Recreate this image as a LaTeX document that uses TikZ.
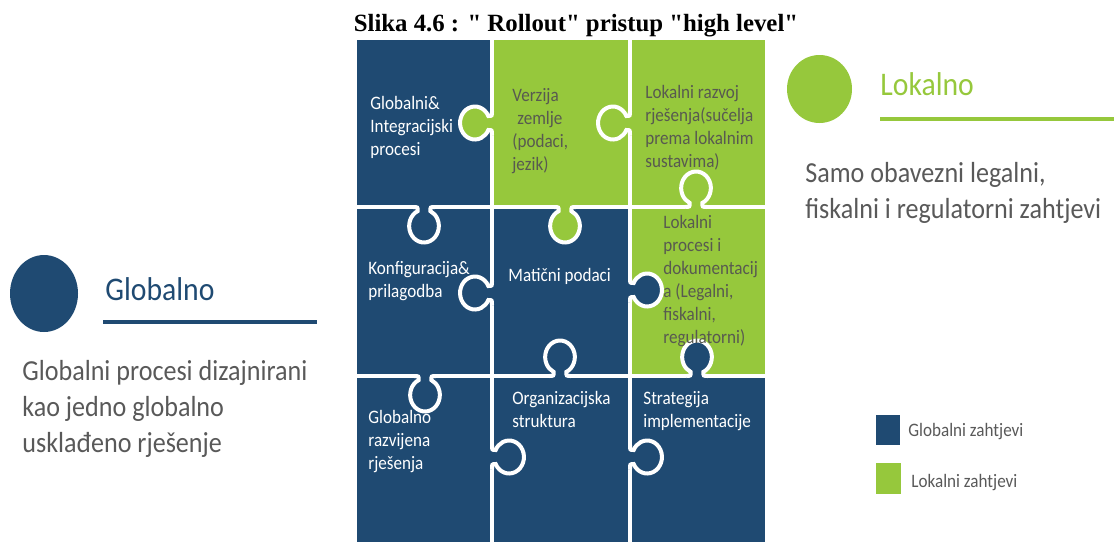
\documentclass[tikz,border=0pt]{standalone}
\usepackage{fontspec}
\setmainfont{Carlito}[FakeStretch=0.9]
\newfontfamily\titlefont{Liberation Serif}
\definecolor{globalblue}{RGB}{31,74,114}
\definecolor{localgreen}{RGB}{150,200,60}
\definecolor{bodygray}{RGB}{89,89,89}
\definecolor{tilegray}{RGB}{88,90,80}

% puzzle tab: edge point x, y, direction, colour of the owning piece
\newcommand{\puzzletab}[4]{%
  \begin{scope}[shift={(#1,#2)}, xscale=0.9, rotate=#3]
    \fill[#4] (-12,-3) -- (-12,0) .. controls (-7,0) .. (-7,4.06)
      arc[start angle=244.9, end angle=-64.9, radius=16.5]
      .. controls (7,0) .. (12,0) -- (12,-3) -- cycle;
    \draw[white, line width=2pt] (-12,0) .. controls (-7,0) .. (-7,4.06)
      arc[start angle=244.9, end angle=-64.9, radius=16.5]
      .. controls (7,0) .. (12,0);
  \end{scope}}

\begin{document}
\begin{tikzpicture}[x=0.5pt, y=-0.5pt,
    tile/.style={anchor=north west, inner sep=0pt, align=left,
      font=\fontsize{9.5}{11.5}\selectfont, execute at begin node=\strut},
    ontblue/.style={tile, text=white},
    ontgreen/.style={tile, text=tilegray},
    body/.style={anchor=north west, inner sep=0pt, align=left, text=bodygray,
      font=\fontsize{14.5}{18}\selectfont, execute at begin node=\strut},
    heading/.style={anchor=base west, inner sep=0pt, font=\fontsize{16.5}{20}\selectfont},
    legend/.style={anchor=base west, inner sep=0pt, text=bodygray, font=\fontsize{9.5}{11.5}\selectfont}]
  \useasboundingbox (0,0) rectangle (1114,542);

  % title
  \node[anchor=base, inner sep=0pt, font=\titlefont\bfseries\fontsize{12.4}{14}\selectfont] (title) at (576,31.5) {Slika 4.6 : " Rollout" pristup "high level"};

  % pieces
  \fill[globalblue] (357,40) rectangle (492,207);
  \fill[localgreen] (492,40) rectangle (630,207);
  \fill[localgreen] (630,40) rectangle (765,207);
  \fill[globalblue] (357,207) rectangle (492,376);
  \fill[globalblue] (492,207) rectangle (630,376);
  \fill[localgreen] (630,207) rectangle (765,376);
  \fill[globalblue] (357,376) rectangle (765,542);
  \draw[white, line width=2pt] (492,40) -- (492,542);
  \draw[white, line width=2pt] (630,40) -- (630,542);
  \draw[white, line width=2pt] (357,207) -- (765,207);
  \draw[white, line width=2pt] (357,376) -- (765,376);

  % tabs
  \puzzletab{492}{123}{-90}{localgreen}
  \puzzletab{630}{123}{-90}{localgreen}
  \puzzletab{696}{207}{180}{localgreen}
  \puzzletab{424}{207}{0}{globalblue}
  \puzzletab{565}{207}{0}{localgreen}
  \puzzletab{492}{293}{-90}{globalblue}
  \puzzletab{630}{290}{90}{globalblue}
  \puzzletab{560}{376}{180}{globalblue}
  \puzzletab{697}{376}{180}{globalblue}
  \puzzletab{425}{376}{0}{globalblue}
  \puzzletab{492}{457}{90}{globalblue}
  \puzzletab{630}{457}{90}{globalblue}

  % piece texts
  \node[ontblue] (gip) at (370,96) {Globalni\&\\Integracijski\\procesi};
  \node[ontgreen] (vz) at (512,88) {Verzija\\\hspace*{2.5pt}zemlje\\(podaci,\\jezik)};
  \node[ontgreen] (lrr) at (645,85) {Lokalni razvoj\\rješenja(sučelja\\prema lokalnim\\sustavima)};
  \node[ontblue] (kp) at (368,261) {Konfiguracija\&\\prilagodba};
  \node[ontblue] (mp) at (508,265) {Matični podaci};
  \node[ontgreen] (lpd) at (663,215) {Lokalni\\procesi i\\dokumentacij\\a (Legalni,\\fiskalni,\\regulatorni)};
  \node[ontblue] (grr) at (368,410) {Globalno\\razvijena\\rješenja};
  \node[ontblue] (os) at (512,391) {Organizacijska\\struktura};
  \node[ontblue] (si) at (643,391) {Strategija\\implementacije};

  % global side
  \fill[globalblue] (44,293.5) ellipse [x radius=34, y radius=38.5];
  \node[heading, text=globalblue] (globalno) at (105,300) {Globalno};
  \draw[globalblue, line width=2pt] (103,322) -- (317,322);
  \node[body] (globaltxt) at (22,360) {Globalni procesi dizajnirani\\kao jedno globalno\\usklađeno rješenje};

  % local side
  \fill[localgreen] (819.5,89) ellipse [x radius=32.5, y radius=34];
  \node[heading, text=localgreen] (lokalno) at (880,95) {Lokalno};
  \draw[localgreen, line width=2pt] (880,119) -- (1114,119);
  \node[body] (localtxt) at (805,161.5) {Samo obavezni legalni,\\fiskalni i regulatorni zahtjevi};

  % legend
  \fill[globalblue] (876,415) rectangle (900,445);
  \node[legend] (lgg) at (908,436) {Globalni zahtjevi};
  \fill[localgreen] (876,463) rectangle (901,494);
  \node[legend] (lgl) at (911,487) {Lokalni zahtjevi};
\end{tikzpicture}
\end{document}
